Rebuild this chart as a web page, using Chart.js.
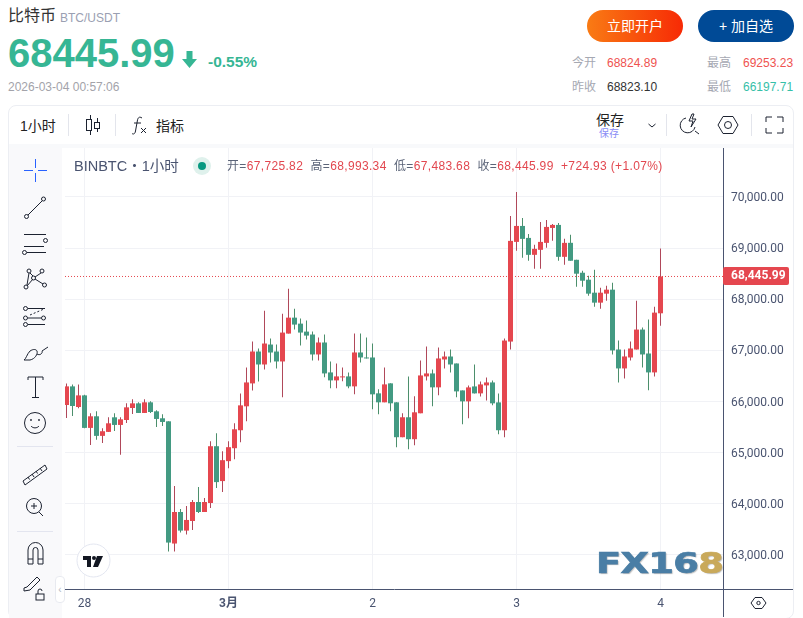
<!DOCTYPE html>
<html lang="zh">
<head>
<meta charset="utf-8">
<title>比特币 BTC/USDT</title>
<script src="https://cdn.jsdelivr.net/npm/chart.js@4/dist/chart.umd.min.js"></script>
<style>
  html, body { margin: 0; padding: 0; background: #fff; overflow: hidden; }
  body { width: 803px; height: 618px; position: relative; font-family: "Liberation Sans", "Noto Sans CJK SC", sans-serif; }
  .abs { position: absolute; white-space: nowrap; line-height: 1; }
  .btn { position: absolute; top: 10px; width: 96px; height: 32px; line-height: 32px; border-radius: 16px; color: #fff; font-size: 14px; text-align: center; }
  .label { color: #a5a8b2; font-size: 12px; }
  .num { font-size: 12px; }
  #panel { position: absolute; left: 8px; top: 105px; width: 784px; height: 512px; border: 1px solid #eceef3; border-radius: 8px; box-sizing: content-box; }
  #band { position: absolute; left: 9px; top: 144px; width: 784px; height: 4px; background: #f8f9fb; }
  #side { position: absolute; left: 9px; top: 148px; width: 53px; height: 470px; background: #f9f9fb; }
  #chartBox { position: absolute; left: 65px; top: 148px; width: 728px; height: 469px; }
  .sep { position: absolute; top: 114px; width: 1px; height: 22px; background: #e3e5ec; }
  #legend { position: absolute; left: 227px; top: 160px; font-size: 12px; letter-spacing: 0.34px; color: #5b6478; white-space: nowrap; line-height: 1; }
  #legend b { font-weight: normal; color: #e2474f; }
  #logo { position: absolute; left: 596px; top: 546px; font-family: "DejaVu Sans", sans-serif; font-weight: bold; font-size: 29px; letter-spacing: -0.5px; color: #4a7ea5; -webkit-text-stroke: 0.7px #4a7ea5; transform: scaleX(1.27); transform-origin: left top; white-space: nowrap; text-shadow: 1px 1px 1px rgba(60,60,60,.35); }
  #logo span { color: #c9a95a; -webkit-text-stroke: 0.7px #c9a95a; }
</style>
</head>
<body>

<div class="abs" style="left:8px;top:8px;font-size:16px;color:#333">比特币</div>
<div class="abs" style="left:60px;top:12px;font-size:12px;color:#9aa0b2">BTC/USDT</div>
<div class="abs" id="bigPrice" style="left:8px;top:33px;font-size:40px;font-weight:bold;color:#36b694"></div>
<svg class="abs" style="left:181px;top:50px" width="17" height="19" viewBox="0 0 17 19"><path d="M5.5 1h6v8h4.500L8.500 18 1 9h4.500z" fill="#36b694"/></svg>
<div class="abs" style="left:208px;top:54px;font-size:15.500px;font-weight:bold;color:#36b694">-0.55%</div>
<div class="abs" style="left:8px;top:81px;font-size:12px;color:#a3a3aa">2026-03-04 00:57:06</div>

<div class="btn" style="left:587px;background:linear-gradient(90deg,#f97b14,#f72a05)">立即开户</div>
<div class="btn" style="left:698px;background:#004a96">+ 加自选</div>

<div class="abs label" style="left:572px;top:57px">今开</div>
<div class="abs num" style="left:607px;top:57px;color:#ef5350">68824.89</div>
<div class="abs label" style="left:707px;top:57px">最高</div>
<div class="abs num" style="left:743px;top:57px;color:#ef5350">69253.23</div>
<div class="abs label" style="left:572px;top:81px">昨收</div>
<div class="abs num" style="left:607px;top:81px;color:#333">68823.10</div>
<div class="abs label" style="left:707px;top:81px">最低</div>
<div class="abs num" style="left:743px;top:81px;color:#36c0a8">66197.71</div>

<div id="panel"></div>
<div id="band"></div>
<div id="side"></div>

<!-- toolbar -->
<div class="abs" style="left:20px;top:119px;font-size:14px;color:#222">1小时</div>
<div class="sep" style="left:68px"></div>
<div class="sep" style="left:115px"></div>
<div class="abs" style="left:156px;top:119px;font-size:14px;color:#222">指标</div>
<div class="abs" style="left:596px;top:113px;font-size:14px;color:#222">保存</div>
<div class="abs" style="left:599px;top:129px;font-size:10px;color:#8a8cf5">保存</div>
<div class="sep" style="left:666px"></div>
<div class="sep" style="left:751px"></div>
<svg class="abs" style="left:0;top:0;pointer-events:none" width="803" height="150" fill="none" stroke="#1c2230" stroke-width="1">
  <!-- candle icon -->
  <path d="M90.500 115v4M90.500 131v4M97.500 118v4M97.500 128v4"/><rect x="86.500" y="119.500" width="5" height="11"/><rect x="94.500" y="122.500" width="5" height="6"/>
  <!-- fx icon -->
  <path d="M142 118c-3-2-4 0-4.500 2l-2 11c-.5 3-2 3.500-3.500 2.500M134 123h7M141 128l5 5M146 128l-5 5"/>
  <!-- chevron -->
  <path d="M648.500 124l3.500 3 3.500-3"/>
  <!-- lightning search -->
  <path d="M686 118a7.500 7.500 0 1 0 9 9M695 131l4 3M692 114l-3 7h4l-2 6 5-8h-4l2-5z"/>
  <!-- hexagon -->
  <path d="M723 116.500h10l5 8.500-5 8.500h-10l-5-8.500z"/><circle cx="728" cy="125" r="3.500"/>
  <!-- fullscreen -->
  <path d="M766 122v-5h6M777 117h6v5M783 128v5h-6M772 133h-6v-5"/>
</svg>

<div id="chartBox"><canvas id="chartCandles" width="728" height="469"></canvas></div>

<!-- legend row -->
<div class="abs" style="left:74px;top:159px;font-size:14.500px;color:#4a5470">BINBTC・1小时</div>
<svg class="abs" style="left:193px;top:157px" width="18" height="18"><circle cx="9" cy="9" r="9" fill="#dff1ec"/><circle cx="9" cy="9" r="4" fill="#089981"/></svg>
<div id="legend"></div>

<!-- sidebar tools -->
<svg class="abs" style="left:0;top:148px" width="66" height="470" fill="none" stroke="#1c2230" stroke-width="1">
  <path d="M24 22.500h9M38 22.500h9M35.500 11v9M35.500 25v9" stroke="#2962ff"/>
  <circle cx="26.500" cy="68.500" r="2"/><circle cx="43.500" cy="51" r="2"/><path d="M28 67l14-14"/>
  <path d="M24 86.500h22M24 98.500h20M27 104.500h19"/><circle cx="45.500" cy="92.500" r="2"/><circle cx="24.500" cy="104.500" r="2"/>
  <circle cx="29" cy="123" r="2"/><circle cx="42" cy="123" r="2"/><circle cx="33.500" cy="130" r="2"/><circle cx="26" cy="139" r="2"/><circle cx="44.500" cy="137" r="2"/>
  <path d="M27 137l2-12M30 125l3 3M35 129l6-4M35 131l8 5M27 138l6-7"/>
  <circle cx="25.500" cy="160.500" r="2"/><circle cx="43.500" cy="170" r="2"/><circle cx="25.500" cy="170" r="2"/><circle cx="25.500" cy="176.500" r="2"/>
  <path d="M28 160.500h17M28 170h13M28 176.500h17"/><path d="M30 167l14-6" stroke-dasharray="2 2"/>
  <path d="M24 212c2-1 3-6 6-9 3-2 6-2 7 0 1 3-2 8-7 9zM37 206c3 2 6-1 5-3l6-4"/>
  <path d="M28 232v-3h15v3M35.500 229v20M32 249.500h7"/>
  <circle cx="35" cy="275" r="10.500"/><circle cx="31" cy="272" r=".6"/><circle cx="39" cy="272" r=".6"/><path d="M31 278c2 2.500 6 2.500 8 0"/>
  <path d="M17 298.500h36" stroke="#e3e5ef"/>
  <path d="M23 333l22-16 2 4-22 16zM28 329l1.500 2.500M32 326l2 3M36 323l1.500 2.500M40 320l2 3"/>
  <circle cx="34" cy="358" r="7.500"/><path d="M39 364l4 4M31 358h6M34 355v6"/>
  <path d="M17 383.500h36" stroke="#e3e5ef"/>
  <path d="M28 416v-14a7.500 7.500 0 0 1 15 0v14h-5v-14a2.500 2.500 0 0 0-5 0v14zM28 411h5M38 411h5"/>
  <path d="M24 440l3-1 10-10 3 3-10 10-6 1z"/><rect x="36" y="446" width="8" height="6"/><path d="M38 446v-3a2 2 0 0 1 4 0"/>
</svg>
<div class="abs" style="left:55px;top:576px;width:8px;height:25px;background:#fff;border:1px solid #e8eaf0;border-radius:4px;line-height:25px;font-size:10px;text-align:center;color:#b5b8c2">‹</div>

<!-- chart logo -->
<svg class="abs" style="left:76px;top:543px" width="35" height="35">
  <circle cx="17.500" cy="17.500" r="16.500" fill="#fff" stroke="#e3e6f0"/>
  <path d="M7 13h8v11h-4v-7H7z" fill="#131722"/><circle cx="18" cy="15" r="2" fill="#131722"/><path d="M21 13h6l-5 11h-5z" fill="#131722"/>
</svg>

<!-- bottom right axis corner -->
<div class="abs" style="left:723px;top:589px;width:70px;height:1px;background:#4a5470"></div>
<div class="abs" style="left:723px;top:589px;width:1px;height:28px;background:#4a5470"></div>
<svg class="abs" style="left:750px;top:597px" width="17" height="13" fill="none" stroke="#1c2230"><path d="M5 .5h7l4 5.500-4 5.500H5L1 6z"/><circle cx="8.500" cy="6" r="1.700"/></svg>

<div id="logo">FX16<span>8</span></div>

<script>
// Candles, one per hour
const opens = [
    65933, 66297, 65894, 66121, 65485, 65712, 65329, 65407, 65692, 65543,
    65640, 65874, 65965, 65777, 65985, 65809, 65673, 65614, 63224, 63841,
    63477, 63665, 64036, 63841, 64016, 65127, 64445, 64835, 65088, 65439,
    65907, 66355, 66979, 66725, 67115, 66979, 66784, 67329, 67641, 67524,
    67368, 67311, 66921, 67155, 66570, 66414, 66473, 66492, 66297, 66960,
    66862, 66862, 66161, 65985, 66356, 65985, 65303, 65693, 65264, 65771,
    66492, 66550, 66278, 66823, 66881, 66745, 66218, 66004, 66296, 66160,
    66316, 66374, 65984, 65439, 67173, 69122, 69434, 69200, 68869, 68967,
    69103, 69395, 69454, 68830, 69104, 68772, 68519, 68383, 68129, 67934,
    68110, 68188, 67018, 66648, 66862, 67018, 67408, 66940, 66570, 67725.82
];
const highs = [
    66355, 66336, 66336, 66134, 65770, 65809, 65478, 65692, 65770, 65692,
    65965, 66043, 65985, 66043, 66004, 65829, 65751, 65614, 64348, 63899,
    63958, 64075, 64328, 64114, 65224, 65380, 65030, 65224, 65575, 66160,
    66667, 67174, 67037, 67778, 67232, 67115, 67719, 68207, 67817, 67622,
    67583, 67369, 67252, 67311, 66784, 66745, 66667, 66570, 67330, 67330,
    67252, 67135, 66239, 66667, 66356, 65985, 65771, 66492, 66102, 66804,
    67077, 66628, 67057, 66978, 67017, 66745, 66218, 66316, 66725, 66394,
    66472, 66413, 66160, 67232, 69629, 70097, 69590, 69278, 69064, 69512,
    69551, 69473, 69493, 69182, 69260, 68772, 68558, 68461, 68578, 68227,
    68266, 68324, 67194, 67018, 67174, 67973, 67447, 67603, 67856, 68993.34
];
const lows = [
    65679, 65718, 65868, 65480, 65153, 65251, 65192, 65407, 65426, 64958,
    65582, 65757, 65777, 65777, 65777, 65504, 65524, 63068, 63068, 63438,
    63399, 63490, 63821, 63841, 63919, 64308, 64230, 64698, 64874, 65205,
    65614, 66218, 66394, 66628, 66764, 66647, 66082, 67329, 67407, 67096,
    67213, 66804, 66804, 66473, 66258, 66258, 66395, 66258, 66141, 66765,
    66843, 65849, 65751, 65985, 65810, 65108, 65303, 65069, 65147, 65771,
    66414, 65907, 66122, 66647, 66569, 66082, 65556, 65673, 66160, 66101,
    66023, 65926, 65361, 65302, 67017, 68947, 68811, 68752, 68596, 68596,
    69006, 69142, 68752, 68674, 68753, 68246, 68246, 68071, 67856, 67817,
    67973, 66921, 66375, 66453, 66804, 67018, 66667, 66219, 66492, 67483.68
];
const closes = [
    66297, 65913, 66121, 65485, 65712, 65329, 65420, 65575, 65543, 65653,
    65887, 65965, 65777, 65985, 65796, 65660, 65601, 63243, 63841, 63477,
    63685, 64036, 63841, 64036, 65127, 64425, 64854, 65108, 65458, 65926,
    66374, 66979, 66725, 67135, 66959, 66784, 67349, 67641, 67505, 67349,
    67290, 66921, 67155, 66550, 66414, 66492, 66492, 66297, 66960, 66862,
    66843, 66141, 65985, 66336, 65966, 65303, 65693, 65264, 65790, 66511,
    66550, 66278, 66843, 66881, 66725, 66199, 66004, 66277, 66160, 66335,
    66374, 65965, 65439, 67193, 69142, 69434, 69181, 68869, 68986, 69122,
    69415, 69454, 68830, 69103, 68753, 68500, 68363, 68110, 67934, 68129,
    68188, 67000, 66648, 66882, 67038, 67408, 66921, 66570, 67739, 68445.99
];

// Axis ticks
const priceTicks = [63000, 64000, 65000, 66000, 67000, 68000, 69000, 70000];
const dayTickIndex = [3, 27, 51, 75, 99];
const dayTickLabels = ['28', '3月', '2', '3', '4'];

const lastChange = 724.93;
const lastChangePct = '+1.07%';

const upColor = '#e5474f';
const downColor = '#439a82';
const upWick = '#b0485a';
const downWick = '#4c8f6c';
const axisColor = '#4a5470';
const gridColor = '#f1f2f6';
const textFont = 'Roboto, "Noto Sans CJK SC", sans-serif';

function formatPrice(v) {
    return v.toLocaleString('en-US', { minimumFractionDigits: 2, maximumFractionDigits: 2 });
}

function isUp(i) {
    return closes[i] >= opens[i];
}

// Filling the page text from the data
function fillHeader() {
    const last = closes[closes.length - 1];
    const open = opens[opens.length - 1];
    const high = highs[highs.length - 1];
    const low = lows[lows.length - 1];
    document.getElementById('bigPrice').textContent = last.toFixed(2);
    document.getElementById('legend').innerHTML =
        `开=<b>${formatPrice(open)}</b>&nbsp; 高=<b>${formatPrice(high)}</b>&nbsp; 低=<b>${formatPrice(low)}</b>&nbsp; 收=<b>${formatPrice(last)}</b>&nbsp; <b>+${lastChange} (${lastChangePct})</b>`;
}

// Red tag with the last price on the right axis
const priceTag = {
    id: 'priceTag',
    afterDraw(chart) {
        const ctx = chart.ctx;
        const last = closes[closes.length - 1];
        const y = Math.round(chart.scales.y.getPixelForValue(last));
        const x = chart.chartArea.right;
        ctx.save();
        ctx.fillStyle = upColor;
        ctx.beginPath();
        ctx.roundRect(x, y - 9, 66, 18, 2);
        ctx.fill();
        ctx.fillStyle = '#fff';
        ctx.font = 'bold 12px ' + textFont;
        ctx.textAlign = 'left';
        ctx.textBaseline = 'middle';
        ctx.fillText(formatPrice(last), x + 8, y);
        ctx.restore();
    }
};

// The tick labels must not push the plot area in from its edges
function noEdgePadding(scale) {
    scale.paddingTop = 0;
    scale.paddingBottom = 0;
    scale.paddingLeft = 0;
    scale.paddingRight = 0;
}

function createChart() {
    const ctx = document.getElementById('chartCandles').getContext('2d');
    const index = closes.map((c, i) => i);
    const xMin = -0.25;
    const xMax = 109.4167;
    const last = closes[closes.length - 1];

    new Chart(ctx, {
        type: 'bar',
        data: {
            datasets: [
                {
                    type: 'line',
                    data: [{ x: xMin, y: last }, { x: xMax, y: last }],
                    borderColor: upColor,
                    borderWidth: 1,
                    borderDash: [1, 2],
                    pointRadius: 0,
                    order: 3
                },
                {
                    data: index.map(i => ({ x: i, y: [lows[i], highs[i]] })),
                    backgroundColor: index.map(i => isUp(i) ? upWick : downWick),
                    barThickness: 1,
                    grouped: false,
                    inflateAmount: 0,
                    order: 2
                },
                {
                    data: index.map(i => ({ x: i, y: [opens[i], closes[i]] })),
                    backgroundColor: index.map(i => isUp(i) ? upColor : downColor),
                    barThickness: 5,
                    grouped: false,
                    inflateAmount: 0,
                    order: 1
                }
            ]
        },
        options: {
            responsive: false,
            animation: false,
            events: [],
            layout: { padding: 0 },
            plugins: { legend: { display: false }, tooltip: { enabled: false } },
            scales: {
                x: {
                    type: 'linear',
                    offset: false,
                    min: xMin,
                    max: xMax,
                    afterBuildTicks: scale => {
                        scale.ticks = dayTickIndex.map(v => ({ value: v }));
                    },
                    afterFit: scale => { scale.height = 28; noEdgePadding(scale); },
                    grid: { color: gridColor, drawTicks: false, offset: false },
                    border: { color: axisColor, width: 1 },
                    ticks: {
                        color: axisColor,
                        padding: 8,
                        maxRotation: 0,
                        autoSkip: false,
                        font: c => ({ family: textFont, size: 12, weight: c.tick && c.tick.value === 27 ? 'bold' : 'normal' }),
                        callback: v => dayTickLabels[dayTickIndex.indexOf(v)]
                    }
                },
                y: {
                    position: 'right',
                    min: 62335,
                    max: 70958,
                    afterBuildTicks: scale => {
                        scale.ticks = priceTicks.map(v => ({ value: v }));
                    },
                    afterFit: scale => { scale.width = 70; noEdgePadding(scale); },
                    grid: { color: gridColor, drawTicks: false },
                    border: { color: axisColor, width: 1 },
                    ticks: {
                        color: axisColor,
                        padding: 8,
                        labelOffset: 1,
                        font: { family: textFont, size: 12 },
                        callback: v => formatPrice(v)
                    }
                }
            }
        },
        plugins: [priceTag]
    });
}

document.addEventListener('DOMContentLoaded', () => {
    fillHeader();
    createChart();
});
</script>
</body>
</html>
